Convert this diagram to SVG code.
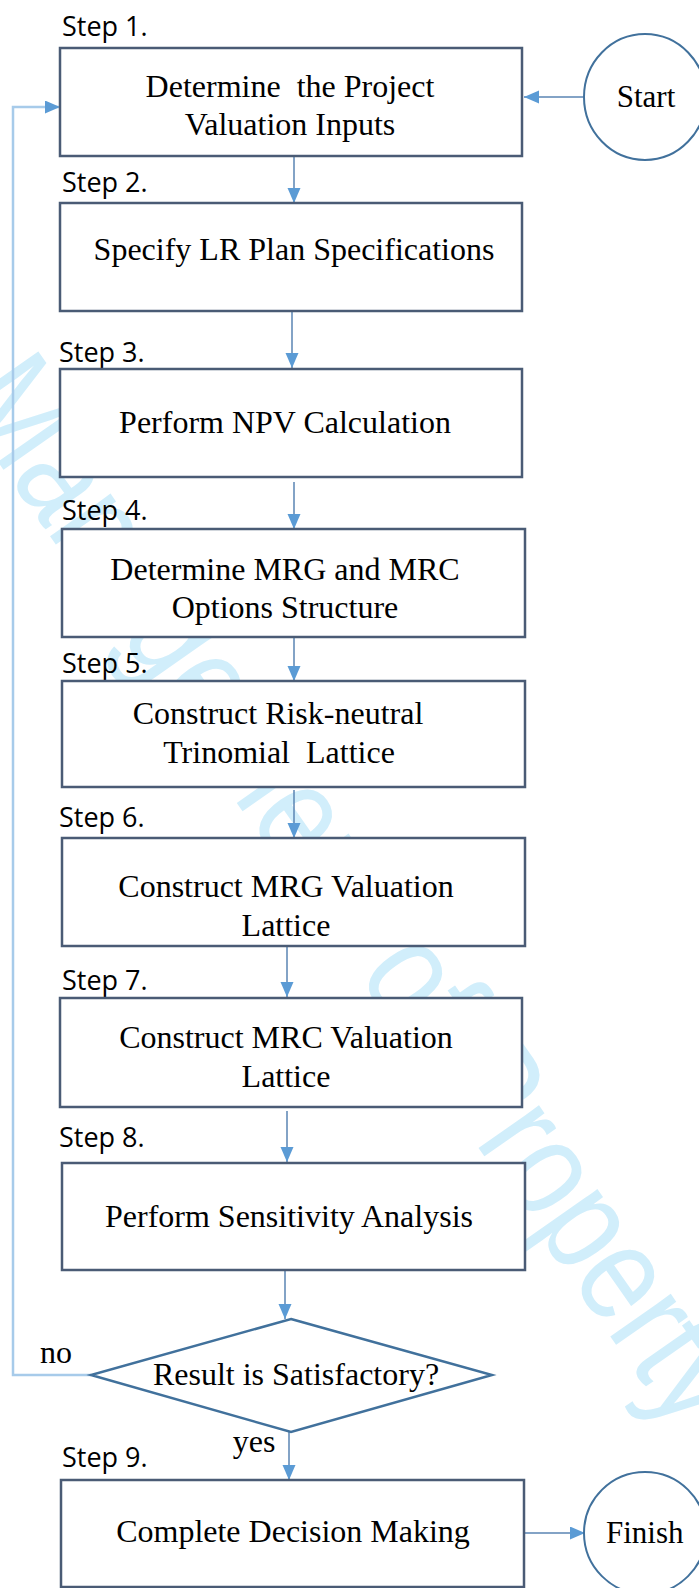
<svg xmlns="http://www.w3.org/2000/svg" width="699" height="1588" viewBox="0 0 699 1588">
<style>
.box{fill:#fff;stroke:#4a5b75;stroke-width:2.5}
.term{fill:#fff;stroke:#41719c;stroke-width:2}
.t{font-family:"Liberation Serif","Times New Roman",serif;font-size:32px;fill:#000;text-anchor:middle;white-space:pre}
.s{font-family:"Open Sans","Liberation Sans",sans-serif;font-size:27px;fill:#000}
.c{fill:none;stroke:#5a84b3;stroke-width:1.5}
.fb{fill:none;stroke:#a7cbea;stroke-width:2.5}
.wm{font-family:"Liberation Sans",Arial,sans-serif;font-size:140px;fill:#d1eefb}
</style>
<defs>
<marker id="ah" markerUnits="userSpaceOnUse" markerWidth="16" markerHeight="14" refX="15" refY="6.5" orient="auto">
<path d="M0,0 L15,6.5 L0,13 z" fill="#5b9bd5"/>
</marker>
</defs>
<rect width="699" height="1588" fill="#fff"/>
<text class="wm" transform="translate(-46,399) rotate(55)" textLength="1264" lengthAdjust="spacingAndGlyphs">Management of Property</text>

<g id="connectors">
<line class="c" x1="583" y1="97" x2="524" y2="97" marker-end="url(#ah)"/>
<line class="c" x1="294" y1="157" x2="294" y2="203" marker-end="url(#ah)"/>
<line class="c" x1="292" y1="311" x2="292" y2="368" marker-end="url(#ah)"/>
<line class="c" x1="294" y1="482" x2="294" y2="529" marker-end="url(#ah)"/>
<line class="c" x1="294" y1="637" x2="294" y2="681" marker-end="url(#ah)"/>
<line class="c" x1="294" y1="790" x2="294" y2="838" marker-end="url(#ah)"/>
<line class="c" x1="287" y1="946" x2="287" y2="997" marker-end="url(#ah)"/>
<line class="c" x1="287" y1="1111" x2="287" y2="1162" marker-end="url(#ah)"/>
<line class="c" x1="285" y1="1270" x2="285" y2="1319" marker-end="url(#ah)"/>
<line class="c" x1="289" y1="1432" x2="289" y2="1480" marker-end="url(#ah)"/>
<line class="c" x1="519" y1="1533" x2="585" y2="1533" marker-end="url(#ah)"/>
<polyline class="fb" points="91,1375 13,1375 13,107 60,107" marker-end="url(#ah)"/>
<text class="t" x="56" y="1363">no</text>
<text class="t" x="254" y="1452">yes</text>
</g>

<g id="start">
<ellipse class="term" cx="645" cy="97" rx="61" ry="63"/>
<text class="t" x="646" y="107" style="font-size:31px">Start</text>
</g>

<g id="step1">
<text class="s" x="62" y="36">Step 1.</text>
<rect class="box" x="60" y="48" width="462" height="108"/>
<text class="t" x="290" y="97">Determine  the Project</text>
<text class="t" x="290" y="135">Valuation Inputs</text>
</g>

<g id="step2">
<text class="s" x="62" y="192">Step 2.</text>
<rect class="box" x="60" y="203" width="462" height="108"/>
<text class="t" x="294" y="260">Specify LR Plan Specifications</text>
</g>

<g id="step3">
<text class="s" x="59" y="362">Step 3.</text>
<rect class="box" x="60" y="369" width="462" height="108"/>
<text class="t" x="285" y="433">Perform NPV Calculation</text>
</g>

<g id="step4">
<text class="s" x="62" y="520">Step 4.</text>
<rect class="box" x="62" y="529" width="463" height="108"/>
<text class="t" x="285" y="580">Determine MRG and MRC</text>
<text class="t" x="285" y="618">Options Structure</text>
</g>

<g id="step5">
<text class="s" x="62" y="673">Step 5.</text>
<rect class="box" x="62" y="681" width="463" height="106"/>
<text class="t" x="278" y="724">Construct Risk-neutral</text>
<text class="t" x="279" y="763">Trinomial  Lattice</text>
</g>

<g id="step6">
<text class="s" x="59" y="827">Step 6.</text>
<rect class="box" x="62" y="838" width="463" height="108"/>
<text class="t" x="286" y="897">Construct MRG Valuation</text>
<text class="t" x="286" y="936">Lattice</text>
</g>

<g id="step7">
<text class="s" x="62" y="990">Step 7.</text>
<rect class="box" x="60" y="998" width="462" height="109"/>
<text class="t" x="286" y="1048">Construct MRC Valuation</text>
<text class="t" x="286" y="1087">Lattice</text>
</g>

<g id="step8">
<text class="s" x="59" y="1147">Step 8.</text>
<rect class="box" x="62" y="1163" width="463" height="107"/>
<text class="t" x="289" y="1227">Perform Sensitivity Analysis</text>
</g>

<g id="decision">
<polygon class="term" points="291,1319 492,1375 291,1432 91,1375" style="stroke-width:2.5"/>
<text class="t" x="296" y="1385">Result is Satisfactory?</text>
</g>

<g id="step9">
<text class="s" x="62" y="1467">Step 9.</text>
<rect class="box" x="61" y="1480" width="463" height="107"/>
<text class="t" x="293" y="1542">Complete Decision Making</text>
</g>

<g id="finish">
<ellipse class="term" cx="645" cy="1533" rx="61" ry="61"/>
<text class="t" x="606" y="1543" style="text-anchor:start;font-size:31px">Finish</text>
</g>
</svg>
